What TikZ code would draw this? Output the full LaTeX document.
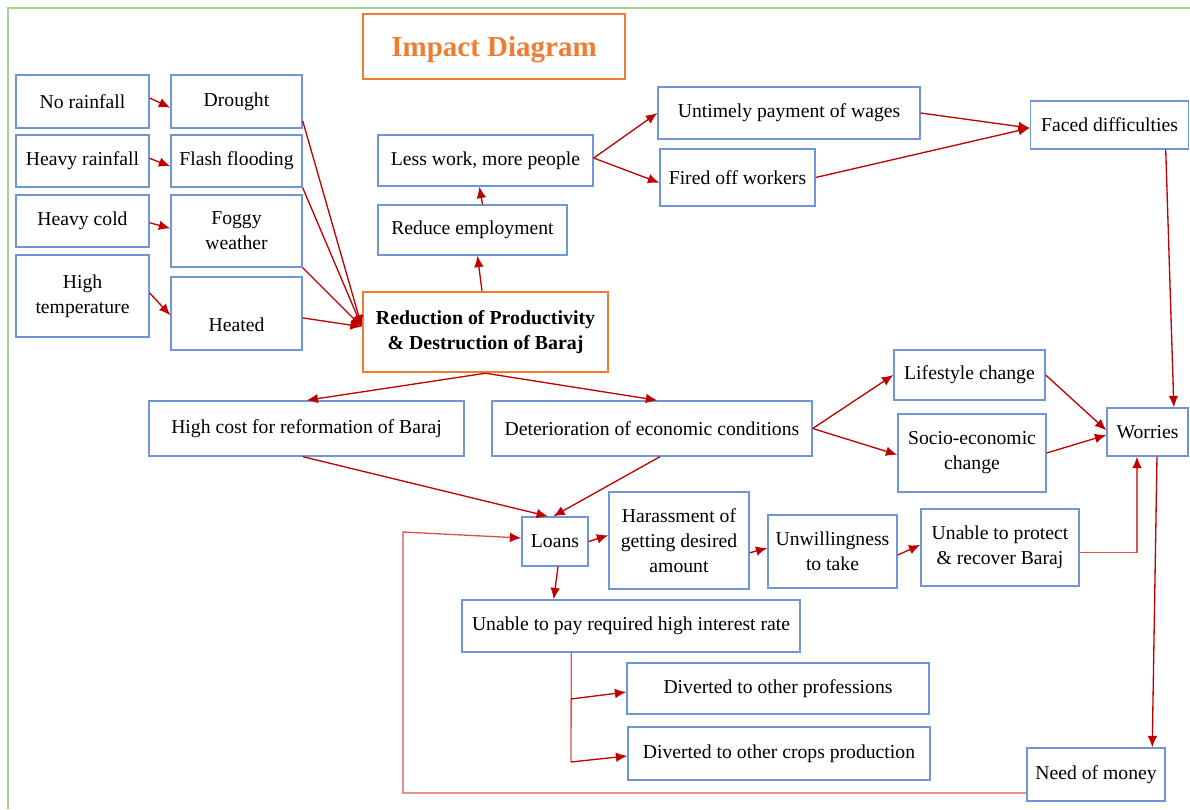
\documentclass[tikz,border=0pt]{standalone}
\usepackage{fontspec}
\setmainfont{Liberation Serif}
\usetikzlibrary{arrows.meta}
\definecolor{boxblue}{HTML}{7096D6}
\definecolor{boxorange}{HTML}{ED7D31}
\definecolor{arrred}{HTML}{C00000}
\definecolor{lightred}{HTML}{D9534F}
\definecolor{framegreen}{HTML}{A9D18E}
\tikzset{
  box/.style={draw=boxblue,line width=0.8pt,align=center,inner sep=2pt,
    font=\fontsize{11.2}{14.2}\selectfont},
  keybox/.style={box,draw=boxorange,line width=1.4pt,
    font=\fontsize{11.3}{14.2}\selectfont\bfseries},
  bsize/.style 2 args={minimum width=#1cm,minimum height=#2cm},
  arr/.style={-{Latex[length=6.5pt,width=5.5pt,color=arrred]},draw=arrred,line width=0.75pt},
  lightarr/.style={arr,draw=lightred}
}
\begin{document}
\begin{tikzpicture}[x=0.02cm,y=-0.02cm]
    \useasboundingbox (0,0) rectangle (1190,809);
    %cornice
    \draw[framegreen,line width=1.1pt](8,809)--(8,8)--(1190,8);
    %titolo
    \node[box,draw=boxorange,line width=1.4pt,bsize={5.24}{1.3},
          font=\fontsize{16.5}{20}\selectfont\bfseries,text=boxorange]
          (title) at (494,46.5) {\raisebox{0pt}[\height][0pt]{Impact Diagram}};
    %cause
    \node[box,bsize={2.66}{1.06}] (norain) at (82.5,101.5) {No rainfall};
    \node[box,bsize={2.62}{1.06}] (drought) at (236.5,101.5) {Drought};
    \node[box,bsize={2.66}{1.04}] (heavyrain) at (82.5,161) {Heavy rainfall};
    \node[box,bsize={2.62}{1.04}] (flash) at (236.5,161) {Flash flooding};
    \node[box,bsize={2.66}{1.04}] (cold) at (82.5,221) {Heavy cold};
    \node[box,bsize={2.62}{1.44}] (foggy) at (236.5,231) {Foggy\\weather};
    \node[box,bsize={2.66}{1.64}] (hightemp) at (82.5,296) {High\\temperature};
    \node[box,bsize={2.62}{1.46}] (heated) at (236.5,313.5) {\raisebox{-6.5pt}[\height][0pt]{Heated}};
    %nodo centrale
    \node[keybox,bsize={4.9}{1.6}] (reduction) at (485.5,332)
          {Reduction of Productivity\\\& Destruction of Baraj};
    %ramo superiore
    \node[box,bsize={3.78}{1.0}] (reduce) at (472.5,230) {Reduce employment};
    \node[box,bsize={4.3}{1.02}] (lesswork) at (485.5,160.5) {Less work, more people};
    \node[box,bsize={5.24}{1.04}] (untimely) at (789,113) {Untimely payment of wages};
    \node[box,bsize={3.1}{1.14}] (fired) at (737.5,177.5) {Fired off workers};
    \node[box,bsize={3.16}{0.96}] (faced) at (1109.5,125) {Faced difficulties};
    %ramo inferiore
    \node[box,bsize={6.3}{1.1}] (highcost) at (306.5,428.5) {High cost for reformation of Baraj};
    \node[box,bsize={6.4}{1.1}] (deterior) at (652,428.5) {Deterioration of economic conditions};
    \node[box,bsize={3.02}{1.0}] (lifestyle) at (969.5,375) {Lifestyle change};
    \node[box,bsize={2.96}{1.56}] (socio) at (972,453) {Socio-economic\\change};
    \node[box,bsize={1.62}{0.96}] (worries) at (1147.5,432) {Worries};
    \node[box,bsize={1.32}{0.98}] (loans) at (555,541.5) {Loans};
    \node[box,bsize={2.8}{1.94}] (harass) at (679,540.5) {Harassment of\\getting desired\\amount};
    \node[box,bsize={2.58}{1.46}] (unwill) at (832.5,551.5) {Unwillingness\\to take};
    \node[box,bsize={3.16}{1.54}] (protect) at (1000,547.5) {Unable to protect\\\& recover Baraj};
    \node[box,bsize={6.76}{1.04}] (unablepay) at (631,626) {Unable to pay required high interest rate};
    \node[box,bsize={6.04}{1.02}] (divprof) at (778,688.5) {Diverted to other professions};
    \node[box,bsize={6.04}{1.06}] (divcrop) at (779,753.5) {Diverted to other crops production};
    \node[box,bsize={2.76}{1.06}] (money) at (1096,774.5) {Need of money};
    %frecce cause
    \draw[arr]([yshift=2pt]norain.east)--([yshift=-3.5pt]drought.west);
    \draw[arr]([yshift=1.5pt]heavyrain.east)--([yshift=-3pt]flash.west);
    \draw[arr]([yshift=-1pt]cold.east)--([yshift=1.5pt]foggy.west);
    \draw[arr]([yshift=1.7pt]hightemp.east)--([yshift=-1pt]heated.west);
    \draw[arr]([yshift=4.5pt]drought.south east)--([yshift=3pt]reduction.west);
    \draw[arr](flash.south east)--([yshift=3pt]reduction.west);
    \draw[arr](foggy.south east)--([yshift=3pt]reduction.west);
    \draw[arr]([yshift=-2.5pt]heated.east)--([yshift=3pt]reduction.west);
    %frecce ramo superiore
    \draw[arr]([xshift=-2pt]reduction.north)--([xshift=2.8pt]reduce.south);
    \draw[arr]([xshift=5.7pt]reduce.north)--([xshift=-3.5pt]lesswork.south);
    \draw[arr]([yshift=1.4pt]lesswork.east)--(untimely.west);
    \draw[arr]([yshift=1.4pt]lesswork.east)--([yshift=-3pt]fired.west);
    \draw[arr](untimely.east)--([yshift=-1.7pt]faced.west);
    \draw[arr](fired.east)--([yshift=-1.7pt]faced.west);
    \draw[arr]([xshift=32pt]faced.south)--([xshift=15pt]worries.north);
    %frecce ramo inferiore
    \draw[arr](reduction.south)--(highcost.north);
    \draw[arr](reduction.south)--([xshift=3pt]deterior.north);
    \draw[arr](deterior.east)--(lifestyle.west);
    \draw[arr](deterior.east)--([yshift=-1pt]socio.west);
    \draw[arr](lifestyle.east)--([yshift=1pt]worries.west);
    \draw[arr](socio.east)--([yshift=-1.7pt]worries.west);
    \draw[arr]([xshift=-2pt]highcost.south)--([xshift=-4pt]loans.north);
    \draw[arr]([xshift=4.5pt]deterior.south)--([xshift=-1pt]loans.north);
    \draw[arr](loans.east)--([yshift=3pt]harass.west);
    \draw[arr]([yshift=-7pt]harass.east)--([yshift=2pt]unwill.west);
    \draw[arr]([yshift=-2pt]unwill.east)--([yshift=1.5pt]protect.west);
    \draw[lightarr]([yshift=-3pt]protect.east)-|([xshift=-6pt]worries.south);
    \draw[arr]([xshift=5.4pt]worries.south)--([xshift=32pt]money.north);
    \draw[arr]([xshift=1.7pt]loans.south)--([xshift=-44pt]unablepay.north);
    %diramazioni
    \coordinate (jprof) at (571,699);
    \coordinate (jcrop) at (571,762);
    \draw[lightred,line width=0.75pt]([xshift=-34pt]unablepay.south)--(jcrop);
    \draw[arr](jprof)--([yshift=-2pt]divprof.west);
    \draw[arr](jcrop)--([yshift=-1.4pt]divcrop.west);
    %ritorno
    \coordinate (lpbot) at (403,793);
    \coordinate (lptop) at (403,532);
    \draw[lightarr]([yshift=-10.5pt]money.west)--(lpbot)--(lptop)--([yshift=2pt]loans.west);
\end{tikzpicture}
\end{document}
